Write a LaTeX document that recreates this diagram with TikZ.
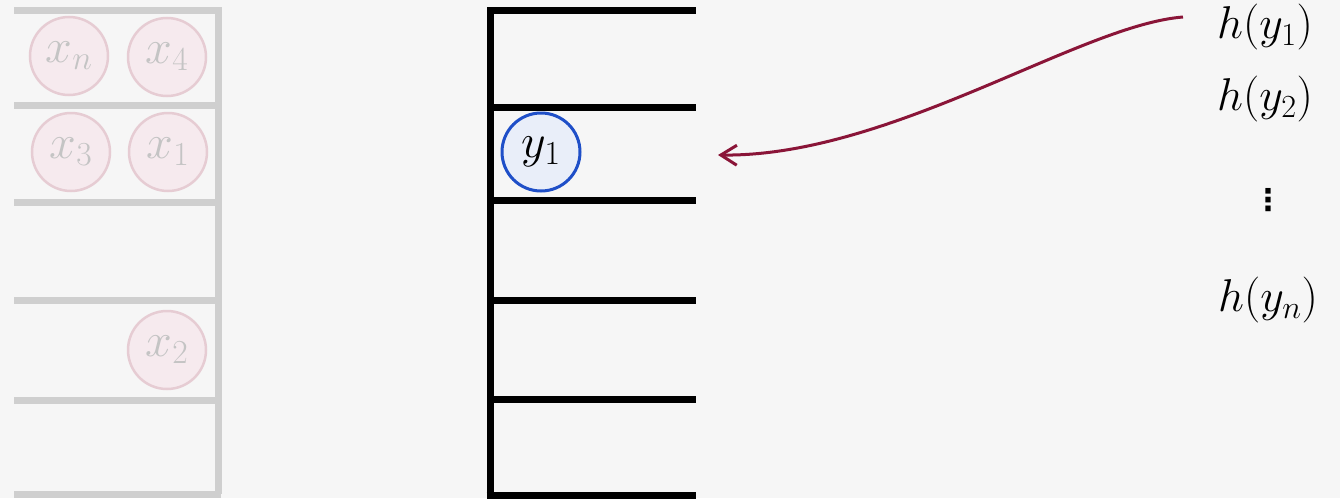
\documentclass[tikz,border=0pt]{standalone}
\usepackage{fix-cm}
\usepackage{fontspec}
\newfontfamily\dejavu{DejaVu Sans}
\usetikzlibrary{arrows.meta}
\definecolor{bg}{HTML}{F6F6F6}
\definecolor{greyline}{HTML}{CFCFCF}
\definecolor{pinkline}{HTML}{E6CCD3}
\definecolor{pinkfill}{HTML}{F6EAEE}
\definecolor{greytext}{HTML}{C4C4C4}
\definecolor{blueline}{HTML}{1F4FC8}
\definecolor{bluefill}{HTML}{E9EEF9}
\definecolor{arrowred}{HTML}{8A1538}
\tikzset{
  greyslot/.style={draw=greyline, line width=7pt},
  blackslot/.style={draw=black, line width=7pt},
  xball/.style={circle, draw=pinkline, fill=pinkfill, line width=2.5pt, minimum size=78pt, inner sep=0pt, text=greytext, font=\fontsize{48}{52}\selectfont},
  yball/.style={circle, draw=blueline, fill=bluefill, line width=3pt, minimum size=78pt, inner sep=0pt, text=black, font=\fontsize{48}{52}\selectfont},
  hlabel/.style={inner sep=0pt, font=\fontsize{46}{50}\selectfont},
  linkarrow/.style={draw=arrowred, line width=3pt, -{Straight Barb[length=16pt,width=20pt,line width=3pt]}}
}
\begin{document}
\begin{tikzpicture}[x=1pt,y=-1pt]
\fill[bg] (0,0) rectangle (1340,498);
\useasboundingbox (0,0) rectangle (1340,498);
% left grey table
\foreach \a/\b in {10/105, 105/202, 202/300, 300/400, 400/494}{
  \draw[greyslot] (14,\a) -- (218,\a) -- (218,\b);
}
\draw[greyslot] (14,494) -- (221,494);
\node[xball] (xn) at (69,56) {$x_n$};
\node[xball] (x4) at (167,57) {$x_4$};
\node[xball] (x3) at (71,152) {$x_3$};
\node[xball] (x1) at (168,152) {$x_1$};
\node[xball] (x2) at (167,350) {$x_2$};
% middle black table
\foreach \a/\b in {10/107, 107/200, 200/300, 300/399, 399/495}{
  \draw[blackslot] (490,\b) -- (490,\a) -- (696,\a);
}
\draw[blackslot] (486.5,495) -- (696,495);
\node[yball] (y1) at (541,152) {$y_1$};
% right labels
\node[hlabel] (hy1) at (1265,27) {$h(y_1)$};
\node[hlabel] (hy2) at (1265,99) {$h(y_2)$};
\node[hlabel, font=\dejavu\bfseries\fontsize{30}{32}\selectfont] (dots) at (1268,200) {⋮};
\node[hlabel] (hyn) at (1268,300) {$h(y_n)$};
% arrow
\coordinate (src) at (1183,17);
\coordinate (dst) at (718,155);
\draw[linkarrow] (src) .. controls (1080,25) and (890,157) .. (dst);
\end{tikzpicture}
\end{document}
